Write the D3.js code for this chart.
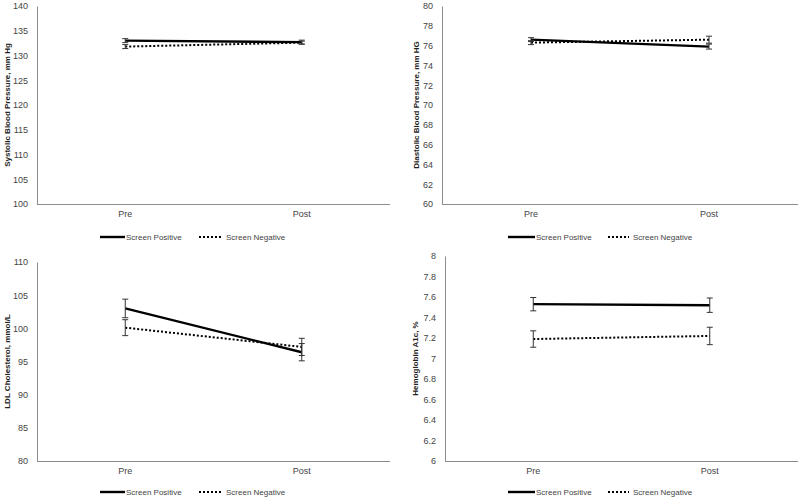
<!DOCTYPE html>
<html><head><meta charset="utf-8">
<script src="https://cdn.jsdelivr.net/npm/d3@7"></script>
<style>body{margin:0;background:#fff}svg{display:block}text{font-family:"Liberation Sans",Arial,sans-serif}</style>
</head><body><svg id="c" width="800" height="500"></svg>
<script>
const categories = ["Pre", "Post"];
const seriesNames = ["Screen Positive", "Screen Negative"];
const yLabels = ["Systolic Blood Pressure, mm Hg", "Diastolic Blood Pressure, mm HG", "LDL Cholesterol, mmol/L", "Hemoglobin A1c, %"];
const yDomains = [[100, 140], [60, 80], [80, 110], [6, 8]];
const yTickValues = [
  [100, 105, 110, 115, 120, 125, 130, 135, 140],
  [60, 62, 64, 66, 68, 70, 72, 74, 76, 78, 80],
  [80, 85, 90, 95, 100, 105, 110],
  [6, 6.2, 6.4, 6.6, 6.8, 7, 7.2, 7.4, 7.6, 7.8, 8]
];
// values per panel: [positive(Pre,Post), negative(Pre,Post)]
const positiveValues = [[133.0, 132.7], [76.6, 75.9], [103.0, 96.4], [7.53, 7.52]];
const negativeValues = [[131.8, 132.6], [76.3, 76.6], [100.1, 97.2], [7.19, 7.22]];
const positiveErrors = [[0.4, 0.4], [0.2, 0.25], [1.4, 1.3], [0.065, 0.07]];
const negativeErrors = [[0.4, 0.3], [0.2, 0.35], [1.2, 1.3], [0.08, 0.085]];

const layout = [
  {l: 37, r: 390, t: 6, b: 204, lx: 7, catY: 217, legY: 237, leg: [100, 125, 199, 222]},
  {l: 442, r: 798, t: 6, b: 204, lx: 416, catY: 217, legY: 237, leg: [508, 535, 608, 629]},
  {l: 37, r: 390, t: 262, b: 461, lx: 7, catY: 474, legY: 492, leg: [100, 125, 199, 222]},
  {l: 445, r: 798, t: 256, b: 461, lx: 415, catY: 474, legY: 492, leg: [508, 535, 608, 629]}
];
const svg = d3.select("#c");
const fmt = v => String(+v.toFixed(1));

layout.forEach((L, i) => {
  const g = svg.append("g");
  const x = d3.scalePoint().domain(categories).range([L.l, L.r]).padding(0.5);
  const y = d3.scaleLinear().domain(yDomains[i]).range([L.b, L.t]);
  // y axis
  const ya = g.append("g").attr("transform", `translate(${L.l},0)`)
    .call(d3.axisLeft(y).tickValues(yTickValues[i]).tickSize(0).tickPadding(9).tickFormat(fmt));
  ya.select(".domain").attr("stroke", "#8c8c8c");
  ya.selectAll("text").attr("font-size", 9).attr("fill", "#444");
  // x axis
  const xa = g.append("g").attr("transform", `translate(0,${L.b})`)
    .call(d3.axisBottom(x).tickSize(0).tickFormat(() => ""));
  xa.select(".domain").attr("stroke", "#8c8c8c").attr("d", `M${L.l},0.5H${L.r}`);
  categories.forEach(c => g.append("text").attr("x", x(c)).attr("y", L.catY)
    .attr("text-anchor", "middle").attr("font-size", 9).attr("fill", "#444").text(c));
  // y label
  g.append("text").attr("transform", `translate(${L.lx},${(L.t + L.b) / 2}) rotate(-90)`)
    .attr("text-anchor", "middle").attr("dominant-baseline", "central")
    .attr("font-size", 8).attr("font-weight", "bold").attr("fill", "#222").text(yLabels[i]);
  // series
  const sets = [
    {vals: positiveValues[i], errs: positiveErrors[i], w: 2.4, dash: null},
    {vals: negativeValues[i], errs: negativeErrors[i], w: 2, dash: "2,2"}
  ];
  const line = d3.line().x(d => x(d.c)).y(d => y(d.v));
  sets.forEach(s => {
    const pts = categories.map((c, k) => ({c, v: s.vals[k], e: s.errs[k]}));
    g.append("path").datum(pts).attr("d", line).attr("fill", "none")
      .attr("stroke", "#000").attr("stroke-width", s.w).attr("stroke-dasharray", s.dash);
    pts.forEach(p => {
      const cx = x(p.c), y1 = y(p.v + p.e), y2 = y(p.v - p.e);
      g.append("path").attr("d", `M${cx},${y1}V${y2}M${cx - 3},${y1}H${cx + 3}M${cx - 3},${y2}H${cx + 3}`)
        .attr("stroke", "#333").attr("stroke-width", 1).attr("fill", "none");
    });
  });
  // legend
  const [a1, a2, b1, b2] = L.leg;
  g.append("line").attr("x1", a1).attr("x2", a2).attr("y1", L.legY).attr("y2", L.legY)
    .attr("stroke", "#000").attr("stroke-width", 2.4);
  g.append("text").attr("x", a2 + 1).attr("y", L.legY).attr("dominant-baseline", "central")
    .attr("font-size", 8).attr("fill", "#444").text(seriesNames[0]);
  g.append("line").attr("x1", b1).attr("x2", b2).attr("y1", L.legY).attr("y2", L.legY)
    .attr("stroke", "#000").attr("stroke-width", 2).attr("stroke-dasharray", "2,2");
  g.append("text").attr("x", b2 + 4).attr("y", L.legY).attr("dominant-baseline", "central")
    .attr("font-size", 8).attr("fill", "#444").text(seriesNames[1]);
});
</script></body></html>
